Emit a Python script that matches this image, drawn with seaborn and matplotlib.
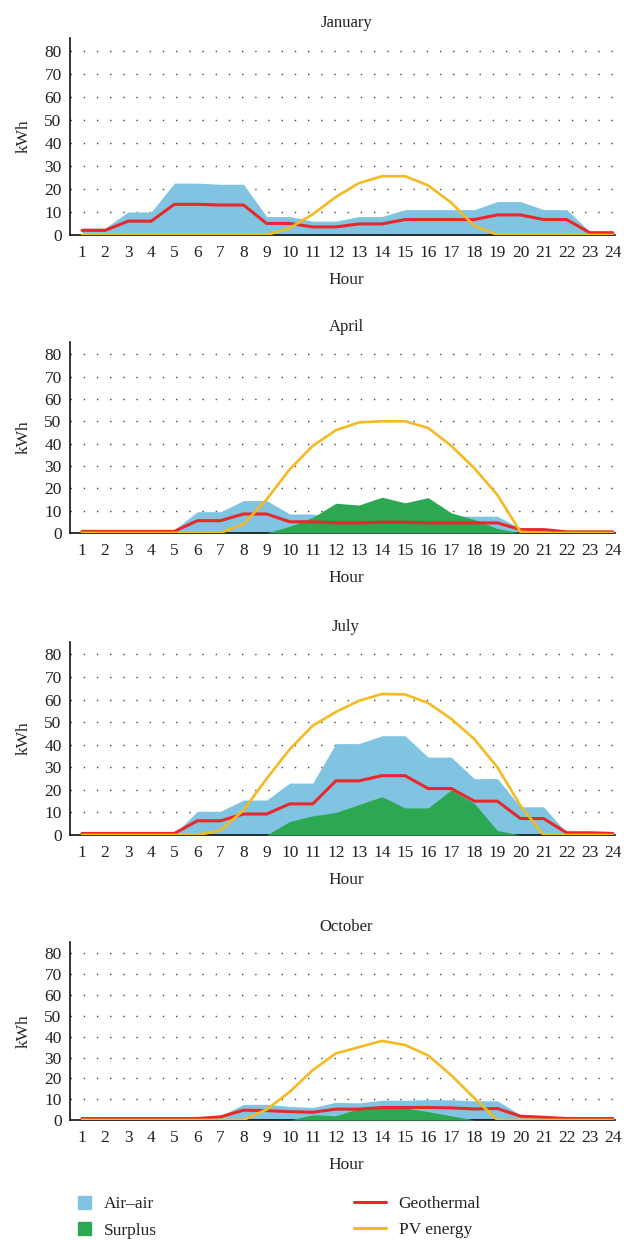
import numpy as np
import pandas as pd
import matplotlib
matplotlib.use("Agg")
import matplotlib.pyplot as plt
import seaborn as sns
from matplotlib.patches import Patch
from matplotlib.lines import Line2D

# Данные (кВт·ч по часам)
hours = list(range(1, 25))
months = ["January", "April", "July", "October"]

air_jan = [3, 3, 10, 10, 22.5, 22.5, 22, 22, 8, 8, 6, 6, 8, 8, 11, 11, 11, 11, 14.5, 14.5, 11, 11, 1.5, 1.5]
geo_jan = [2, 2, 6, 6, 13.3, 13.3, 13, 13, 5, 5, 3.5, 3.5, 4.8, 4.8, 6.7, 6.7, 6.7, 6.7, 8.7, 8.7, 6.7, 6.7, 1, 1]
sur_jan = [0] * 24
pv_jan = [0, 0, 0, 0, 0, 0, 0, 0, 0, 3, 9, 16.5, 22.5, 25.5, 25.5, 21.5, 14, 4, 0, 0, 0, 0, 0, 0]

air_apr = [1, 1, 1, 1.5, 1.5, 9.5, 9.5, 14.5, 14.5, 8.5, 8.5, 6, 6, 6, 6, 6, 7.5, 7.5, 7.5, 2, 2, 0.5, 0.5, 0.5]
geo_apr = [0.7, 0.7, 0.7, 0.7, 0.7, 5.5, 5.5, 8.5, 8.5, 5, 5, 4.5, 4.5, 4.8, 4.8, 4.5, 4.5, 4.5, 4.5, 1.5, 1.5, 0.5, 0.5, 0.5]
sur_apr = [0, 0, 0, 0, 0, 0, 0, 0, 0, 3, 7, 13.3, 12.5, 16, 13.5, 15.8, 9, 6, 2, 0, 0, 0, 0, 0]
pv_apr = [0, 0, 0, 0, 0, 0, 0, 4, 15, 28.5, 39, 46, 49.5, 50, 50, 47, 39, 29, 17, 0.5, 0, 0, 0, 0]

air_jul = [0.5, 0.5, 0.5, 0.5, 0.5, 10.5, 10.5, 15.5, 15.5, 23, 23, 40.5, 40.5, 44, 44, 34.5, 34.5, 25, 25, 12.5, 12.5, 1, 1, 0.5]
geo_jul = [0.7, 0.7, 0.7, 0.7, 0.7, 6.3, 6.3, 9.3, 9.3, 13.8, 13.8, 24, 24, 26.3, 26.3, 20.6, 20.6, 15, 15, 7.3, 7.3, 1, 1, 0.7]
sur_jul = [0, 0, 0, 0, 0, 0, 0, 0, 0, 6, 8.5, 10, 13.5, 17, 12, 12, 20, 14, 2, 0, 0, 0, 0, 0]
pv_jul = [0, 0, 0, 0, 0, 0, 2, 11, 25, 38, 48.5, 54.5, 59.5, 62.5, 62.3, 58.5, 51.5, 42.5, 30, 13, 0, 0, 0, 0]

air_oct = [0.7, 0.7, 0.7, 0.7, 0.7, 0.7, 2, 7.5, 7.5, 6.5, 6, 8.5, 8.2, 9.5, 9.5, 9.8, 9.7, 9.2, 9.2, 2.5, 2, 0.7, 0.7, 0.7]
geo_oct = [0.7, 0.7, 0.7, 0.7, 0.7, 0.7, 1.5, 4.7, 4.5, 4, 3.7, 5.2, 5.2, 6, 6, 6, 5.8, 5.3, 5.5, 1.8, 1.3, 0.7, 0.7, 0.7]
sur_oct = [0, 0, 0, 0, 0, 0, 0, 0, 0, 0, 2.5, 2, 5.5, 5.5, 5.8, 4, 2, 0, 0, 0, 0, 0, 0, 0]
pv_oct = [0, 0, 0, 0, 0, 0, 0, 0, 5, 13.5, 24, 32, 35, 38, 36, 31, 21.5, 10.5, 0, 0, 0, 0, 0, 0]

air = [air_jan, air_apr, air_jul, air_oct]
geo = [geo_jan, geo_apr, geo_jul, geo_oct]
sur = [sur_jan, sur_apr, sur_jul, sur_oct]
pv = [pv_jan, pv_apr, pv_jul, pv_oct]

c_air = "#80c4e2"
c_sur = "#2ca852"
c_geo = "#e8282b"
c_pv = "#f5b922"

sns.set_theme(style="white")
plt.rcParams["font.family"] = ["Liberation Serif", "DejaVu Serif"]
plt.rcParams["text.color"] = "#222222"

fig = plt.figure(figsize=(6.24, 12.4), dpi=100)

# положение панелей (низ, высота) в долях фигуры
boxes = [(0.8105, 0.1589), (0.5702, 0.1540), (0.3266, 0.1556), (0.0968, 0.1435)]
for i, month in enumerate(months):
    ax = fig.add_axes([0.1122, boxes[i][0], 0.8846, boxes[i][1]])
    df = pd.DataFrame({"Hour": hours, "Air": air[i], "Geo": geo[i], "Sur": sur[i], "PV": pv[i]})
    ax.fill_between(df["Hour"], 0, df["Air"], color=c_air, lw=0, zorder=2)
    ax.fill_between(df["Hour"], 0, df["Sur"], color=c_sur, lw=0, zorder=3)
    sns.lineplot(data=df, x="Hour", y="Geo", ax=ax, color=c_geo, lw=2.2, zorder=4)
    sns.lineplot(data=df, x="Hour", y="PV", ax=ax, color=c_pv, lw=1.9, zorder=5)

    ax.set_xlim(0.48, 24.4)
    ax.set_ylim(0, 85.5)
    ax.set_xticks(hours)
    ax.set_yticks(range(0, 81, 10))
    ax.tick_params(length=0, labelsize=12.5, colors="#222222")
    ax.tick_params(axis="y", pad=6)
    ax.tick_params(axis="x", pad=7)
    for y in range(10, 81, 10):
        ax.axhline(y, color="#444444", lw=1, ls=(0, (1, 8.5)), zorder=1)
    for s in ["top", "right"]:
        ax.spines[s].set_visible(False)
    ax.spines["left"].set_color("#111111")
    ax.spines["bottom"].set_color("#111111")
    ax.spines["left"].set_linewidth(1.2)
    ax.spines["bottom"].set_linewidth(1.2)
    ax.spines["bottom"].set_bounds(0.48, 24.1)
    ax.set_title(month, fontsize=12, pad=8)
    ax.set_xlabel("Hour", fontsize=12.5, labelpad=8)
    ax.set_ylabel("kWh", fontsize=12.5, labelpad=9)

# Легенда внизу
patch_handles = [Patch(color=c_air, label="Air–air"), Patch(color=c_sur, label="Surplus")]
line_handles = [Line2D([], [], color=c_geo, lw=2.2, label="Geothermal"),
                Line2D([], [], color=c_pv, lw=2.2, label="PV energy")]
fig.legend(handles=patch_handles, loc="upper left", bbox_to_anchor=(0.0994, 0.0482),
           bbox_transform=fig.transFigure, frameon=False, fontsize=12.5,
           handlelength=0.75, handleheight=0.75, handletextpad=0.75, labelspacing=0.58)
fig.legend(handles=line_handles, loc="upper left", bbox_to_anchor=(0.543, 0.0482),
           bbox_transform=fig.transFigure, frameon=False, fontsize=12.5,
           handlelength=1.8, handletextpad=0.75, labelspacing=0.58)

plt.savefig("out.png", dpi=100)
